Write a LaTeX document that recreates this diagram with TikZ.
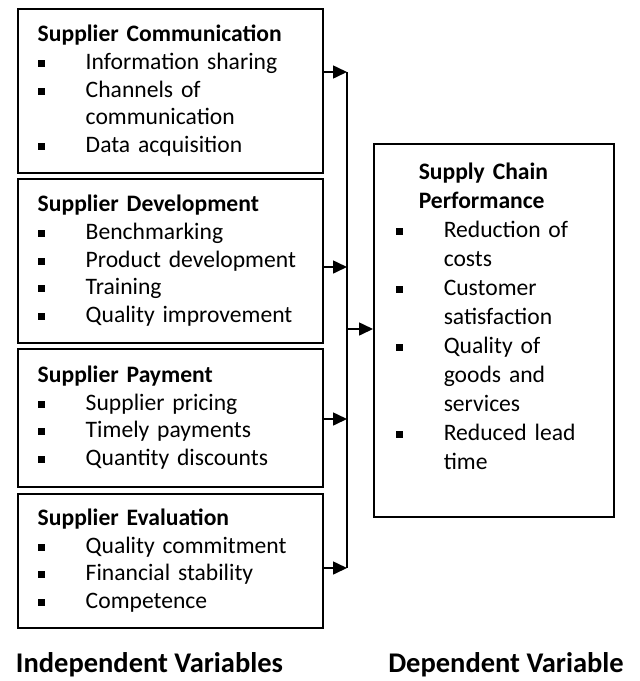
\documentclass[tikz,border=0pt]{standalone}
\usepackage{fontspec}
\setmainfont{Carlito}
\usetikzlibrary{arrows.meta,positioning}
\newcommand{\blt}{\makebox[48pt][l]{\rule[2.5pt]{7pt}{7pt}}}
\newcommand{\ind}{\hspace*{48pt}}

\begin{document}
\begin{tikzpicture}[x=1pt,y=-1pt,
  box/.style={draw, line width=1.5pt, align=left, anchor=north west},
  lbox/.style={box, text width=265pt, inner xsep=20pt,
    font=\fontsize{23.6pt}{27.6pt}\selectfont},
  arr/.style={line width=1.6pt, -{Triangle[length=14pt,width=13pt]}},
  foot/.style={anchor=base, inner sep=0pt, font=\fontsize{28.5pt}{32pt}\selectfont\bfseries}]
\useasboundingbox (0,0) rectangle (640,681);

\node[lbox, minimum height=164pt] (comm) at (17,8)
  {\textbf{Supplier Communication}\\ \blt Information sharing\\ \blt Channels of\\ \ind communication\\ \blt Data acquisition};
\node[lbox, minimum height=164pt] (dev) at (17,178)
  {\textbf{Supplier Development}\\ \blt Benchmarking\\ \blt Product development\\ \blt Training\\ \blt Quality improvement};
\node[lbox, minimum height=138pt] (pay) at (17,348)
  {\textbf{Supplier Payment}\\ \blt Supplier pricing\\ \blt Timely payments\\ \blt Quantity discounts};
\node[lbox, minimum height=134pt] (eval) at (17,493)
  {\textbf{Supplier Evaluation}\\ \blt Quality commitment\\ \blt Financial stability\\ \blt Competence};

\node[box, text width=196pt, inner xsep=22pt, minimum height=373pt,
  font=\fontsize{23.6pt}{29pt}\selectfont] (perf) at (373,143)
  {\hspace*{23pt}\textbf{Supply Chain}\\ \hspace*{23pt}\textbf{Performance}\\
   \blt Reduction of\\ \ind costs\\ \blt Customer\\ \ind satisfaction\\
   \blt Quality of\\ \ind goods and\\ \ind services\\ \blt Reduced lead\\ \ind time\\ \mbox{}};

% bus line
\coordinate (j1) at (347,72);
\coordinate (j2) at (347,267);
\coordinate (j3) at (347,419);
\coordinate (j4) at (347,568);
\coordinate (jm) at (347,329);
\draw[line width=1.3pt] (j1) -- (j4);
\draw[arr] (comm.east |- j1) -- (j1);
\draw[arr] (dev.east |- j2) -- (j2);
\draw[arr] (pay.east |- j3) -- (j3);
\draw[arr] (eval.east |- j4) -- (j4);
\draw[arr] (jm) -- (perf.west |- jm);

\node[foot] (indep) at (149.5,672) {Independent Variables};
\node[foot] (dep) at (506,672) {Dependent Variable};
\end{tikzpicture}
\end{document}
